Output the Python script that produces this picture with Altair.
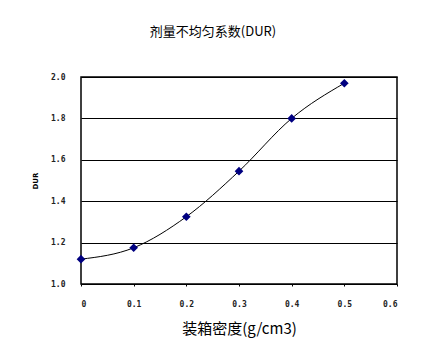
import altair as alt
import pandas as pd

density = [0.0, 0.1, 0.2, 0.3, 0.4, 0.5]
dur = [1.12, 1.175, 1.325, 1.545, 1.80, 1.97]

df = pd.DataFrame({"density": density, "dur": dur})

x = alt.X("density:Q", scale=alt.Scale(domain=[0, 0.6], nice=False),
          axis=alt.Axis(title="装箱密度(g/cm3)", values=[0, 0.1, 0.2, 0.3, 0.4, 0.5, 0.6], format="~g",
                        grid=False, tickSize=2, tickColor="black", domain=False,
                        labelFont="DejaVu Sans Mono", labelFontSize=8, labelFontWeight="bold",
                        labelColor="#222", labelPadding=14,
                        titleFont="Noto Sans CJK SC", titleFontSize=15, titleFontWeight="normal",
                        titleColor="black", titlePadding=13))
y = alt.Y("dur:Q", scale=alt.Scale(domain=[1.0, 2.0], nice=False),
          axis=alt.Axis(title="DUR", values=[1.0, 1.2, 1.4, 1.6, 1.8, 2.0], format=".1f",
                        grid=True, gridColor="black", gridWidth=1, ticks=False, domain=False,
                        labelFont="DejaVu Sans Mono", labelFontSize=8, labelFontWeight="bold",
                        labelColor="#222", labelPadding=16,
                        titleFont="DejaVu Sans", titleFontSize=7, titleFontWeight="bold",
                        titleColor="black", titlePadding=12))

line = alt.Chart(df).mark_line(color="black", strokeWidth=1, interpolate="monotone").encode(x=x, y=y)
pts = alt.Chart(df).mark_point(shape="diamond", filled=True, color="#000080", size=75, opacity=1).encode(x=x, y=y)

chart = (line + pts).properties(
    width=316, height=207,
    title=alt.TitleParams("剂量不均匀系数(DUR)", font="Noto Sans CJK SC", fontSize=13,
                          fontWeight="normal", color="black", dx=-26, offset=34),
    autosize=alt.AutoSizeParams(type="none"),
    padding={"left": 81, "top": 77, "right": 50, "bottom": 80},
    background="white",
).configure_view(stroke="black", strokeWidth=1.5)

chart.save("out.html", embed_options={"renderer": "svg", "actions": False})
